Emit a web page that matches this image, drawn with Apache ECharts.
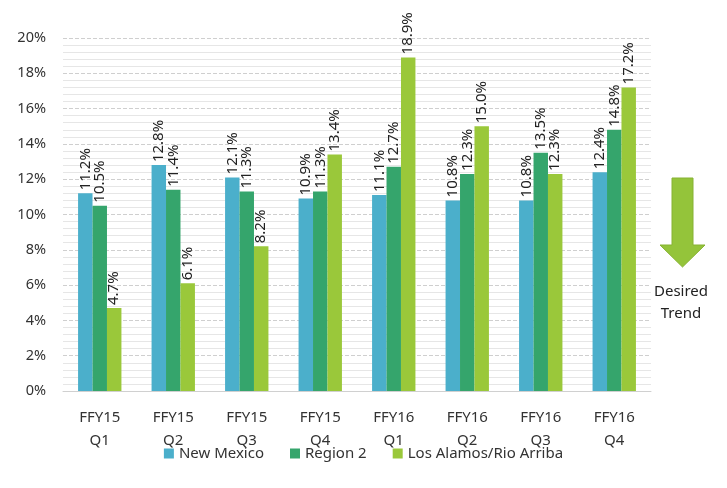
<!DOCTYPE html>
<html>
<head>
<meta charset="utf-8">
<script src="https://cdn.jsdelivr.net/npm/echarts@6/dist/echarts.min.js"></script>
<style>html,body{margin:0;padding:0;background:#fff}#c{width:727px;height:488px}</style>
</head>
<body>
<div id="c"></div>
<script>
var categories = ['FFY15\nQ1','FFY15\nQ2','FFY15\nQ3','FFY15\nQ4','FFY16\nQ1','FFY16\nQ2','FFY16\nQ3','FFY16\nQ4'];
var newMexico = [11.2, 12.8, 12.1, 10.9, 11.1, 10.8, 10.8, 12.4];
var region2 = [10.5, 11.4, 11.3, 11.3, 12.7, 12.3, 13.5, 14.8];
var losAlamos = [4.7, 6.1, 8.2, 13.4, 18.9, 15.0, 12.3, 17.2];
var seriesNames = ['New Mexico', 'Region 2', 'Los Alamos/Rio Arriba'];
var colors = ['#4BAFCB', '#35A56C', '#9AC83A'];

var font = 'Noto Sans';
var chart = echarts.init(document.getElementById('c'));
function mk(name, data, color) {
  return {
    name: name, type: 'bar', data: data, barGap: '0%', barCategoryGap: '41%',
    itemStyle: {color: color},
    label: {
      show: true, position: 'top', rotate: 90, align: 'left', verticalAlign: 'middle',
      distance: 3, fontFamily: font, fontSize: 15, color: '#222',
      formatter: function (p) { return p.value.toFixed(1) + '%'; }
    }
  };
}
chart.setOption({
  animation: false,
  color: colors,
  grid: {left: 63, right: 76, top: 38, bottom: 97},
  legend: {
    top: 441, left: 'center', itemWidth: 10, itemHeight: 10, itemGap: 26,
    icon: 'rect',
    textStyle: {fontFamily: font, fontSize: 15, color: '#333'},
    data: seriesNames
  },
  xAxis: {
    type: 'category', data: categories,
    axisTick: {show: false},
    axisLine: {lineStyle: {color: '#d0d0d0'}},
    axisLabel: {fontFamily: font, fontSize: 15, color: '#333', margin: 15, lineHeight: 23}
  },
  yAxis: {
    type: 'value', min: 0, max: 20, interval: 2,
    axisLabel: {fontFamily: font, fontSize: 14.5, color: '#333', formatter: '{value}%', margin: 17},
    axisLine: {show: false}, axisTick: {show: false},
    splitLine: {lineStyle: {color: '#cfcfcf', type: 'dashed'}},
    minorTick: {show: false, splitNumber: 5},
    minorSplitLine: {show: true, lineStyle: {color: '#e6e6e6', type: 'solid'}}
  },
  series: [
    mk(seriesNames[0], newMexico, colors[0]),
    mk(seriesNames[1], region2, colors[1]),
    mk(seriesNames[2], losAlamos, colors[2])
  ],
  graphic: [
    {
      type: 'polygon',
      shape: {points: [[672,178],[693,178],[693,245],[705,245],[682.5,267],[660,245],[672,245]]},
      style: {fill: '#94C43A', stroke: '#86B232', lineWidth: 1}
    },
    {
      type: 'text', x: 681, y: 281,
      style: {text: 'Desired\nTrend', fontFamily: font, fontSize: 15, fill: '#222', lineHeight: 22, align: 'center', textAlign: 'center'}
    }
  ]
});
</script>
</body>
</html>
